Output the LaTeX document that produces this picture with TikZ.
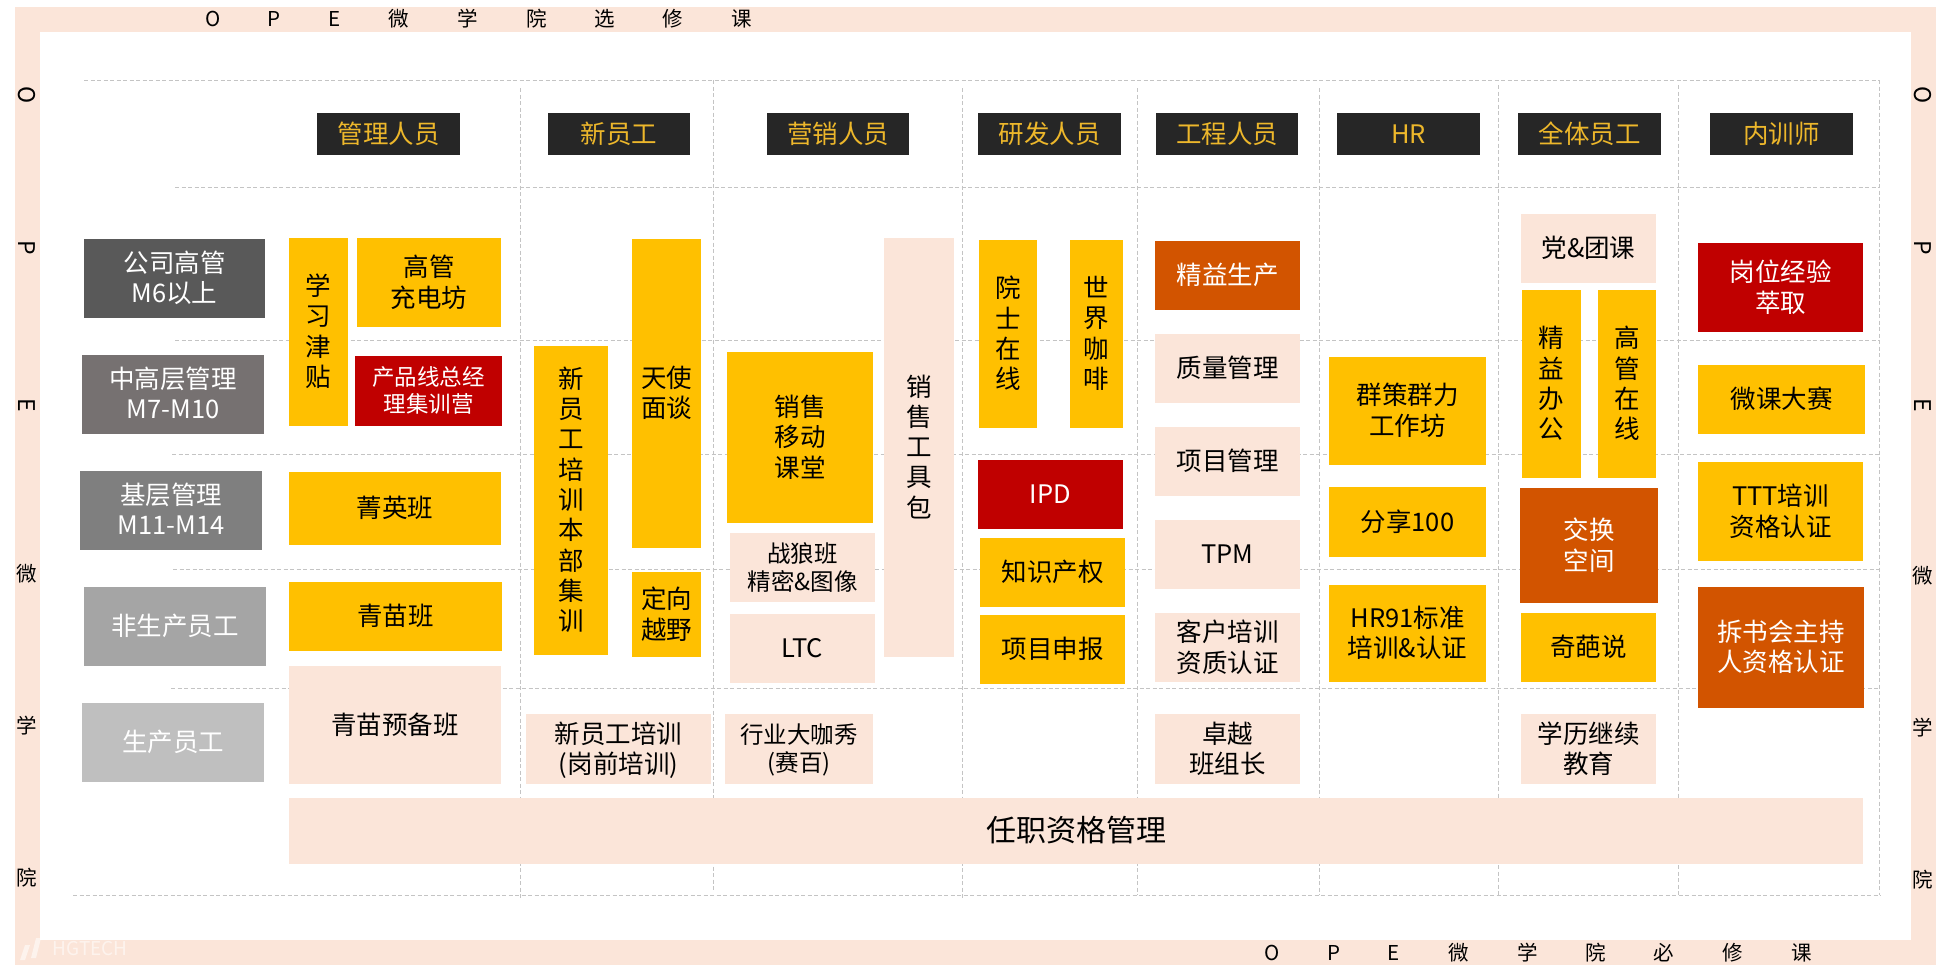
\documentclass[tikz,border=0pt]{standalone}
\usepackage{fontspec}
\setmainfont{Noto Sans CJK SC}
\definecolor{peach}{HTML}{FBE5D9}
\definecolor{gold}{HTML}{FFC000}
\definecolor{hdr}{HTML}{262626}
\definecolor{hdrtxt}{HTML}{EDB72B}
\definecolor{redb}{HTML}{C00000}
\definecolor{orng}{HTML}{D25400}
\definecolor{grid}{HTML}{C4C4C4}
\definecolor{lva}{HTML}{595959}
\definecolor{lvb}{HTML}{767171}
\definecolor{lvc}{HTML}{7F7F7F}
\definecolor{lvd}{HTML}{A5A5A5}
\definecolor{lve}{HTML}{BFBFBF}
\tikzset{
  base/.style={inner sep=0pt,outer sep=0pt,text=black,font=\fontsize{25.5}{30}\selectfont},
  goldbox/.style={base,fill=gold},
  peachbox/.style={base,fill=peach},
  redbox/.style={base,fill=redb,text=white},
  orangebox/.style={base,fill=orng,text=white},
  headbox/.style={base,fill=hdr,text=hdrtxt},
  levelbox/.style={base,fill=#1,text=white},
  small/.style={font=\fontsize{23.5}{27}\selectfont},
  framelabel/.style={inner sep=0pt,outer sep=0pt,text=black,font=\fontsize{20.5}{24}\selectfont},
  sidelabel/.style={framelabel,rotate=-90,font=\fontsize{23}{24}\selectfont},
  gridline/.style={draw=grid,line width=0.8pt,dash pattern=on 4pt off 2.5pt}
}
\newcommand{\bx}[7]{%
  \node[#6,minimum width={(#4-#2)*1pt},minimum height={(#5-#3)*1pt}] (#1) at ({(#2+#4)/2},{(#3+#5)/2})
  {\vbox{\kern6pt\hbox{\begin{tabular}{@{}c@{}}#7\end{tabular}}}};}
\begin{document}
\begin{tikzpicture}[x=1pt,y=-1pt]
\useasboundingbox (0,0) rectangle (1951,977);
\fill[white] (0,0) rectangle (1951,977);
% frame
\fill[peach] (15,7) rectangle (1936,965);
\fill[white] (40,32) rectangle (1911,940);
% grid
\draw[gridline] (84,80) -- (1879,80);
\draw[gridline] (175,187) -- (1879,187);
\draw[gridline] (175,340) -- (1879,340);
\draw[gridline] (172,454) -- (1879,454);
\draw[gridline] (173,569) -- (1879,569);
\draw[gridline] (171,688) -- (1879,688);
\draw[gridline] (73,895) -- (1881,895);
\draw[gridline] (520,88) -- (520,899);
\draw[gridline] (713,80) -- (713,891);
\draw[gridline] (962,88) -- (962,899);
\draw[gridline] (1137,88) -- (1137,895);
\draw[gridline] (1319,88) -- (1319,895);
\draw[gridline] (1498,85) -- (1498,895);
\draw[gridline] (1678,85) -- (1678,895);
\draw[gridline] (1879,80) -- (1879,895);
% frame labels
\foreach \n/\t/\x in {a/O/213,b/P/274,c/E/335,d/微/399,e/学/468,f/院/537,g/选/605,h/修/673,i/课/742}
  \node[framelabel] (top\n) at (\x,19) {\t};
\foreach \n/\t/\x in {a/O/1272,b/P/1334,c/E/1394,d/微/1459,e/学/1528,f/院/1596,g/必/1664,h/修/1733,i/课/1802}
  \node[framelabel] (bot\n) at (\x,953) {\t};
\foreach \n/\t/\y in {a/O/95,b/P/248,c/E/405}{
  \node[sidelabel] (lft\n) at (27,\y) {\t};
  \node[sidelabel] (rgt\n) at (1923,\y) {\t};}
\foreach \n/\t/\y in {d/微/574,e/学/726,f/院/878}{
  \node[framelabel] (lft\n) at (27,\y) {\t};
  \node[framelabel] (rgt\n) at (1923,\y+2) {\t};}
% watermark
\fill[white,opacity=0.55] (20,960) -- (25,945) -- (30,945) -- (25,960) -- cycle;
\fill[white,opacity=0.55] (31,958) -- (36,938) -- (41,938) -- (36,958) -- cycle;
\node[inner sep=0pt,text=white,opacity=0.55,font=\fontsize{19}{22}\selectfont] (mark) at (90,949) {HGTECH};
% headers
\bx{h1}{317}{113}{460}{155}{headbox}{管理人员}
\bx{h2}{548}{113}{690}{155}{headbox}{新员工}
\bx{h3}{767}{113}{909}{155}{headbox}{营销人员}
\bx{h4}{978}{113}{1121}{155}{headbox}{研发人员}
\bx{h5}{1156}{113}{1298}{155}{headbox}{工程人员}
\bx{h6}{1337}{113}{1480}{155}{headbox}{HR}
\bx{h7}{1518}{113}{1661}{155}{headbox}{全体员工}
\bx{h8}{1710}{113}{1853}{155}{headbox}{内训师}
% levels
\bx{l1}{84}{239}{265}{318}{levelbox=lva}{公司高管\\M6以上}
\bx{l2}{82}{355}{264}{434}{levelbox=lvb}{中高层管理\\M7-M10}
\bx{l3}{80}{471}{262}{550}{levelbox=lvc}{基层管理\\M11-M14}
\bx{l4}{84}{587}{266}{666}{levelbox=lvd}{非生产员工}
\bx{l5}{82}{703}{264}{782}{levelbox=lve}{生产员工}
% management
\bx{m1}{289}{238}{348}{426}{goldbox}{学\\习\\津\\贴}
\bx{m2}{357}{238}{501}{327}{goldbox}{高管\\充电坊}
\bx{m3}{355}{356}{502}{426}{redbox,font=\fontsize{22.5}{27}\selectfont}{产品线总经\\理集训营}
\bx{m4}{289}{472}{501}{545}{goldbox}{菁英班}
\bx{m5}{289}{582}{502}{651}{goldbox}{青苗班}
\bx{m6}{289}{666}{501}{784}{peachbox}{青苗预备班}
\bx{q1}{289}{798}{1863}{864}{peachbox,font=\fontsize{30}{34}\selectfont}{任职资格管理}
% new staff
\bx{n1}{534}{346}{608}{655}{goldbox}{新\\员\\工\\培\\训\\本\\部\\集\\训}
\bx{n2}{632}{239}{701}{548}{goldbox}{天使\\面谈}
\bx{n3}{632}{572}{701}{657}{goldbox}{定向\\越野}
\bx{n4}{526}{714}{711}{784}{peachbox}{新员工培训\\(岗前培训)}
% sales
\bx{s1}{727}{352}{873}{523}{goldbox}{销售\\移动\\课堂}
\bx{s2}{730}{533}{875}{602}{peachbox,small}{战狼班\\精密\&图像}
\bx{s3}{730}{614}{875}{683}{peachbox}{LTC}
\bx{s4}{725}{714}{873}{784}{peachbox,small}{行业大咖秀\\(赛百)}
\bx{s5}{884}{238}{954}{657}{peachbox}{销\\售\\工\\具\\包}
% R&D
\bx{r1}{979}{240}{1037}{428}{goldbox}{院\\士\\在\\线}
\bx{r2}{1070}{240}{1123}{428}{goldbox}{世\\界\\咖\\啡}
\bx{r3}{978}{460}{1123}{529}{redbox}{IPD}
\bx{r4}{980}{538}{1125}{607}{goldbox}{知识产权}
\bx{r5}{980}{615}{1125}{684}{goldbox}{项目申报}
% engineering
\bx{e1}{1155}{241}{1300}{310}{orangebox}{精益生产}
\bx{e2}{1155}{334}{1300}{403}{peachbox}{质量管理}
\bx{e3}{1155}{427}{1300}{496}{peachbox}{项目管理}
\bx{e4}{1155}{520}{1300}{589}{peachbox}{TPM}
\bx{e5}{1155}{613}{1300}{682}{peachbox}{客户培训\\资质认证}
\bx{e6}{1155}{714}{1300}{784}{peachbox}{卓越\\班组长}
% HR
\bx{g1}{1329}{357}{1486}{465}{goldbox}{群策群力\\工作坊}
\bx{g2}{1329}{487}{1486}{557}{goldbox}{分享100}
\bx{g3}{1329}{585}{1486}{682}{goldbox}{HR91标准\\培训\&认证}
% all staff
\bx{a1}{1521}{214}{1656}{283}{peachbox}{党\&团课}
\bx{a2}{1522}{290}{1581}{478}{goldbox}{精\\益\\办\\公}
\bx{a3}{1598}{290}{1656}{478}{goldbox}{高\\管\\在\\线}
\bx{a4}{1520}{488}{1658}{603}{orangebox}{交换\\空间}
\bx{a5}{1521}{613}{1656}{682}{goldbox}{奇葩说}
\bx{a6}{1521}{714}{1656}{784}{peachbox}{学历继续\\教育}
% trainers
\bx{t1}{1698}{243}{1863}{332}{redbox}{岗位经验\\萃取}
\bx{t2}{1698}{365}{1865}{434}{goldbox}{微课大赛}
\bx{t3}{1698}{462}{1863}{561}{goldbox}{TTT培训\\资格认证}
\bx{t4}{1698}{587}{1864}{708}{orangebox}{拆书会主持\\人资格认证}
\end{tikzpicture}
\end{document}
